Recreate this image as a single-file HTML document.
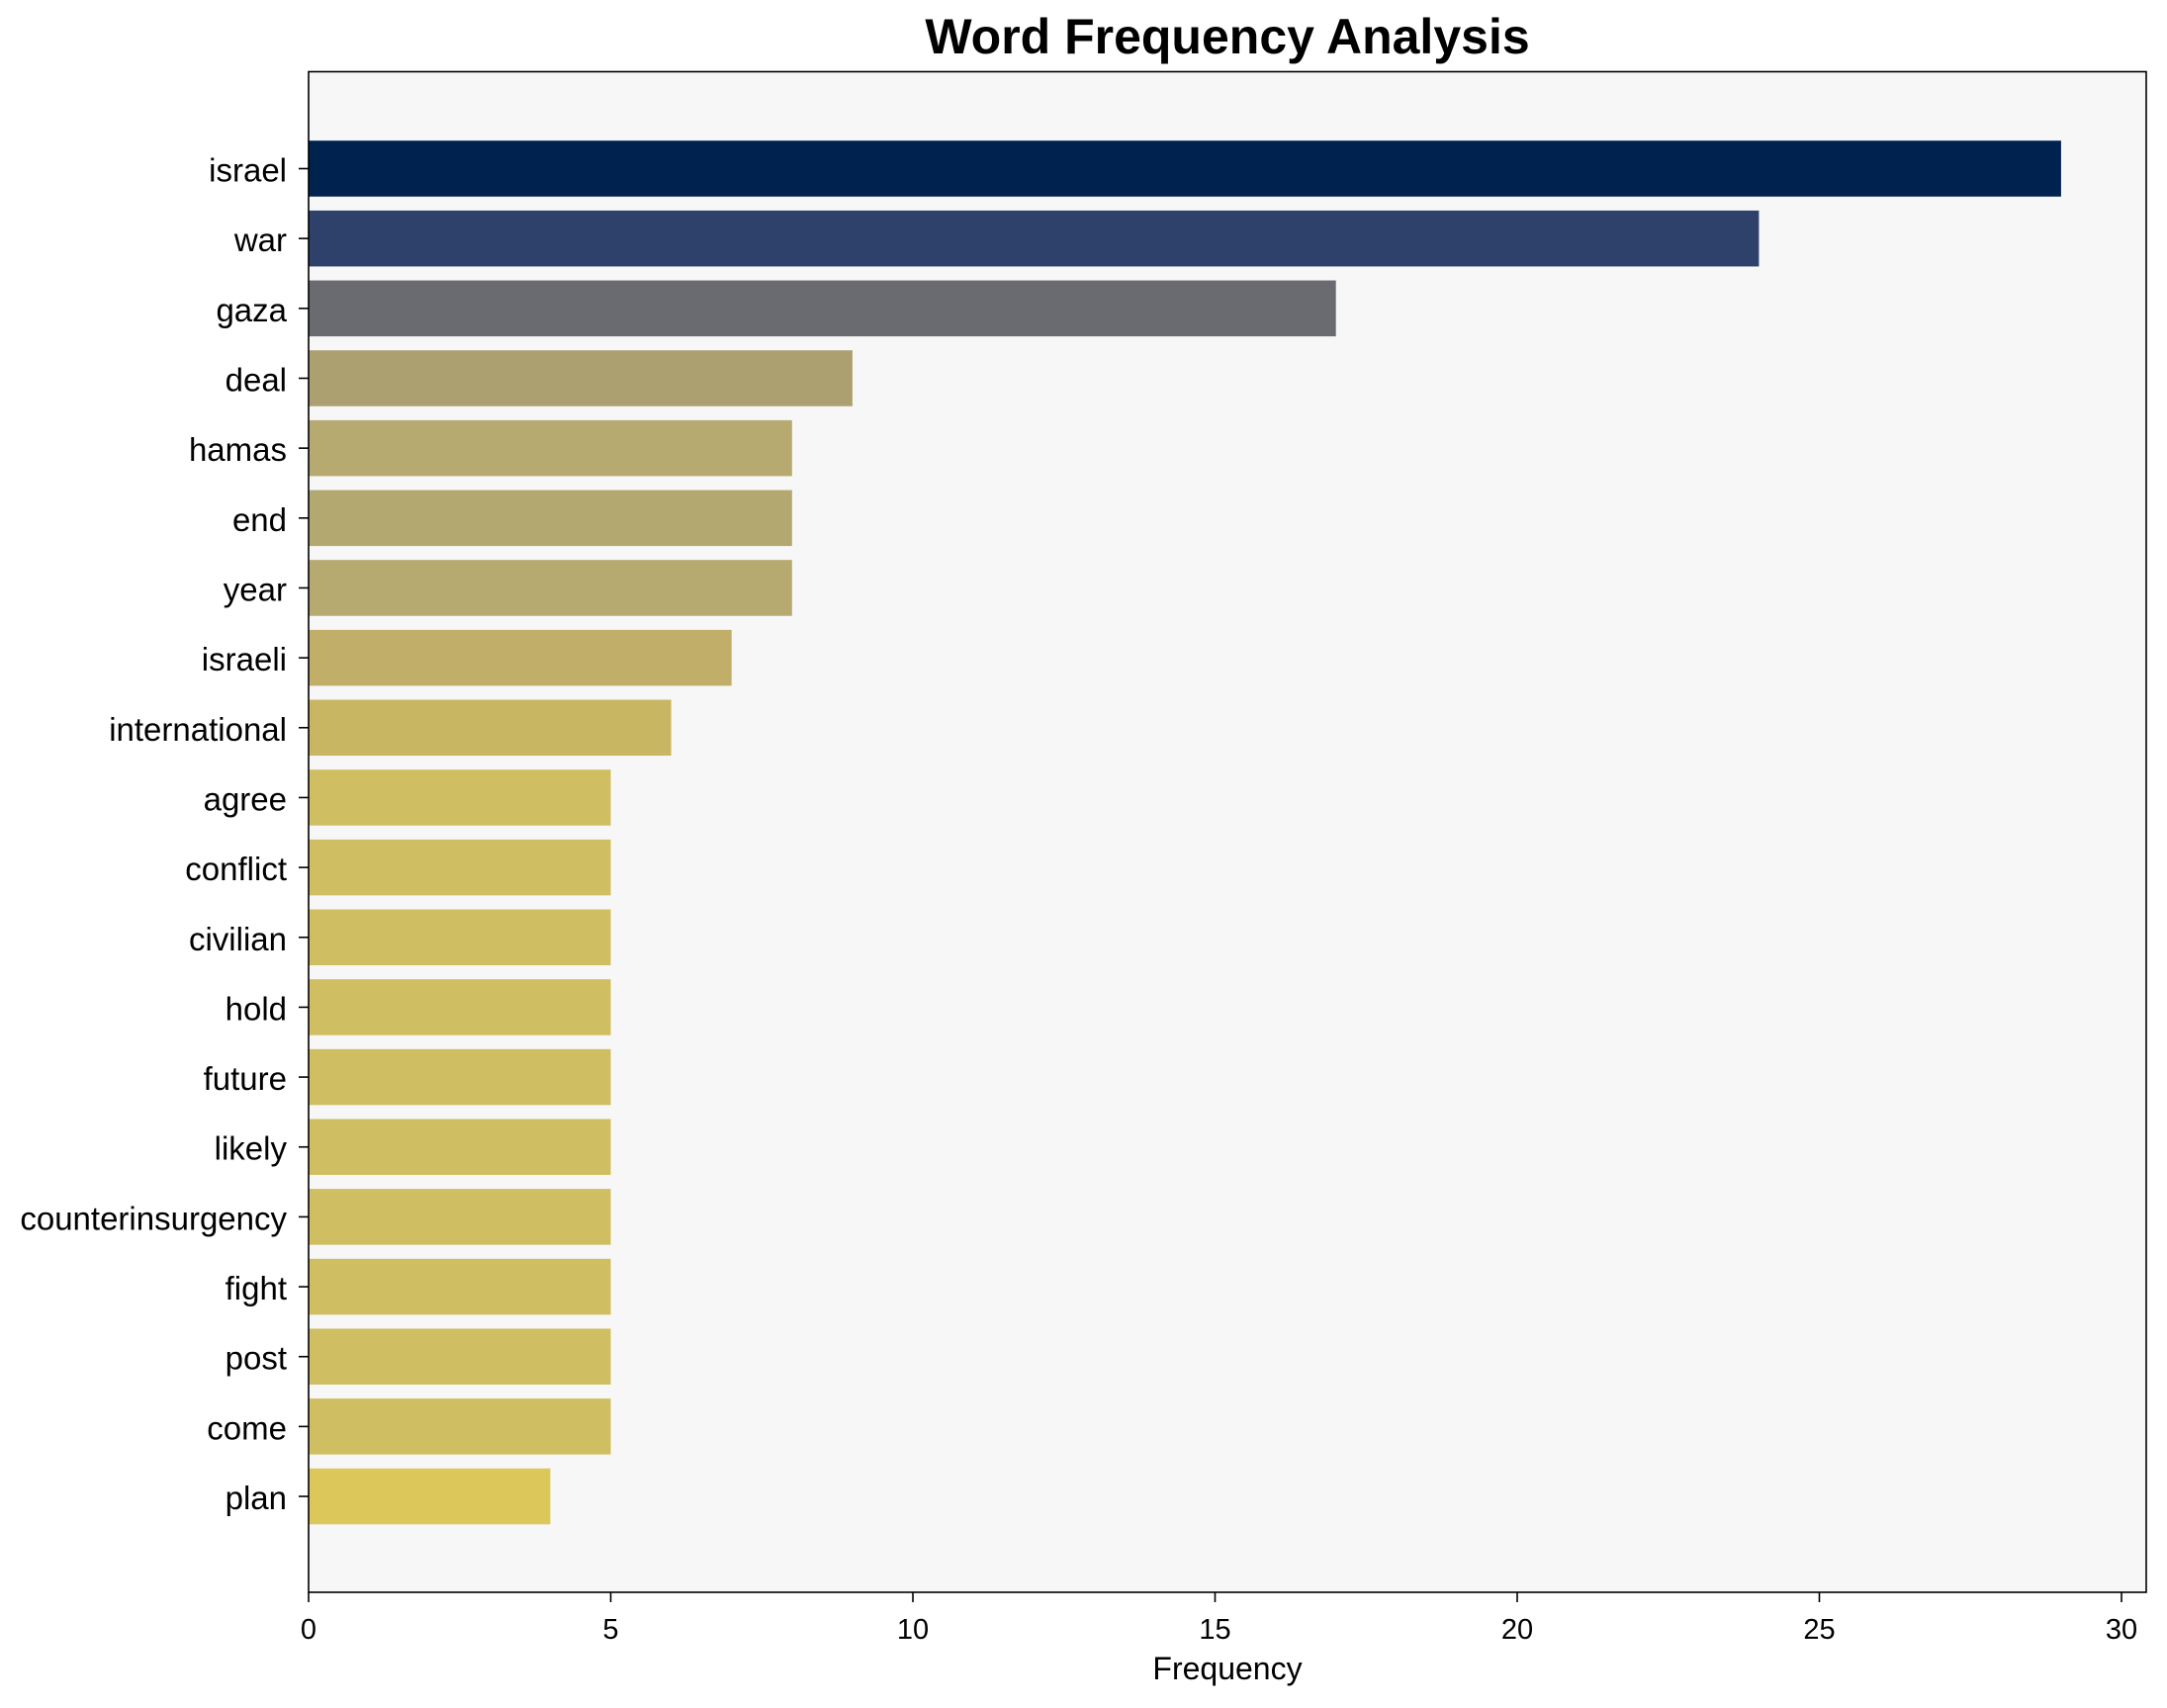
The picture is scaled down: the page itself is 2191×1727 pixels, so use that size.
<!DOCTYPE html>
<html><head><meta charset="utf-8"><style>
html,body{margin:0;padding:0;background:#fff;}
svg text{font-family:"Liberation Sans",Arial,sans-serif;}
</style></head><body>
<svg id="chart" width="2191" height="1722" xmlns="http://www.w3.org/2000/svg">
<rect x="0" y="0" width="2191" height="1722" fill="#fff"/>
<text x="1241" y="54" font-size="50" font-weight="bold" text-anchor="middle">Word Frequency Analysis</text>
<rect x="312" y="72.5" width="1858" height="1537.5" fill="#f7f7f7"/>
<g id="bars"></g>
<g id="yticks"></g>
<g id="xticks"></g>
<rect x="312" y="72.5" width="1858" height="1537.5" fill="none" stroke="#000" stroke-width="1.6"/>
<text x="1241" y="1698" font-size="32" text-anchor="middle">Frequency</text>
</svg>
<script>
const words = ["israel","war","gaza","deal","hamas","end","year","israeli","international","agree","conflict","civilian","hold","future","likely","counterinsurgency","fight","post","come","plan"];
const counts = [29,24,17,9,8,8,8,7,6,5,5,5,5,5,5,5,5,5,5,4];
const colors = ["#00224e","#2e416b","#6a6b70","#aca071","#b6aa70","#b3a870","#b6aa70","#c0ae69","#c9b663","#cfbf62","#cfbf62","#cfbf62","#cfbf62","#cfbf62","#cfbf62","#cfbf62","#cfbf62","#cfbf62","#cfbf62","#dbc75a"];
const xTicks = [0,5,10,15,20,25,30];
const NS = "http://www.w3.org/2000/svg";
const x0 = 312, pxPerUnit = 61.1;
function xs(v){ return x0 + v*pxPerUnit; }
const yFirst = 170.5, step = 70.66;
function ys(i){ return yFirst + i*step; }
const bh = step*0.8;
const gB = document.getElementById('bars'), gY = document.getElementById('yticks'), gX = document.getElementById('xticks');
words.forEach((w,i)=>{
  const r = document.createElementNS(NS,'rect');
  r.setAttribute('x', xs(0)); r.setAttribute('y', ys(i)-bh/2);
  r.setAttribute('width', xs(counts[i])-xs(0)); r.setAttribute('height', bh);
  r.setAttribute('fill', colors[i]);
  
  
  gB.appendChild(r);
  const t = document.createElementNS(NS,'line');
  t.setAttribute('x1', x0-10); t.setAttribute('x2', x0); t.setAttribute('y1', ys(i)); t.setAttribute('y2', ys(i));
  t.setAttribute('stroke','#000'); t.setAttribute('stroke-width','1.6');
  gY.appendChild(t);
  const l = document.createElementNS(NS,'text');
  l.setAttribute('x', x0-22); l.setAttribute('y', ys(i)+13);
  l.setAttribute('font-size','33'); l.setAttribute('text-anchor','end');
  l.textContent = w;
  
  
  gY.appendChild(l);
});
xTicks.forEach(v=>{
  const t = document.createElementNS(NS,'line');
  t.setAttribute('x1', xs(v)); t.setAttribute('x2', xs(v)); t.setAttribute('y1', 1610); t.setAttribute('y2', 1620);
  t.setAttribute('stroke','#000'); t.setAttribute('stroke-width','1.6');
  gX.appendChild(t);
  const l = document.createElementNS(NS,'text');
  l.setAttribute('x', xs(v)); l.setAttribute('y', 1657);
  l.setAttribute('font-size','29'); l.setAttribute('text-anchor','middle');
  l.textContent = v;
  
  
  gX.appendChild(l);
});
</script>
</body></html>
